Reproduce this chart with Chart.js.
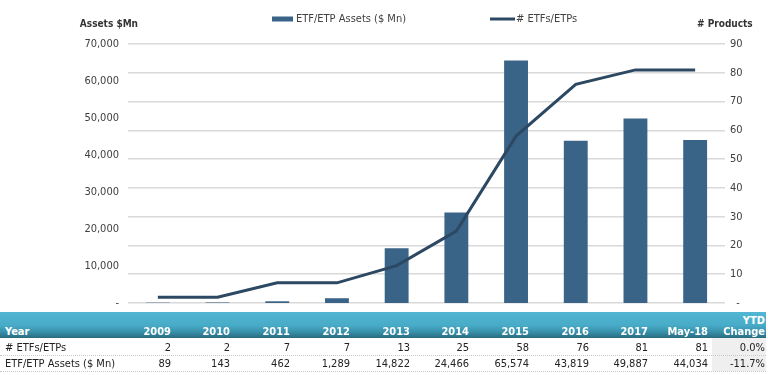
<!DOCTYPE html>
<html><head><meta charset="utf-8">
<script src="https://cdn.jsdelivr.net/npm/chart.js@4/dist/chart.umd.min.js"></script>
<style>
html,body{margin:0;padding:0;background:#fff;}
#wrap{position:relative;width:768px;height:375px;overflow:hidden;font-family:'DejaVu Sans Condensed','DejaVu Sans',sans-serif;font-size:11px;color:#222;}
#c{position:absolute;left:0;top:0;}
#tbl{position:absolute;left:0;top:0;width:768px;height:375px;}
.hdr{position:absolute;left:0;top:312px;width:766px;height:26px;background:linear-gradient(to bottom,#52b7d3 0%,#48acc8 50%,#3a93ad 75%,#2a6b80 100%);}
.ytdbg{position:absolute;left:712px;top:338px;width:54px;height:33px;background:#efefef;}
.sep{position:absolute;left:0;width:766px;height:0;border-top:1px dotted #c8c8c8;}
.cell{position:absolute;white-space:nowrap;line-height:13px;transform:translateX(-100%);}
.h{color:#fff;font-weight:bold;}
</style></head>
<body>
<div id="wrap">
<canvas id="c" width="768" height="375"></canvas>
<div id="tbl"></div>
</div>
<script>
const categories = ['2009','2010','2011','2012','2013','2014','2015','2016','2017','May-18'];
const etfCount = [2,2,7,7,13,25,58,76,81,81];
const assets = [89,143,462,1289,14822,24466,65574,43819,49887,44034];
const ytdChange = ['0.0%','-11.7%'];
const seriesNames = ['ETF/ETP Assets ($ Mn)','# ETFs/ETPs'];
const leftTitle = 'Assets $Mn';
const rightTitle = '# Products';
const rowLabels = ['Year','# ETFs/ETPs','ETF/ETP Assets ($ Mn)'];
const ytdHeader = ['YTD','Change'];

const FONT = "'DejaVu Sans Condensed','DejaVu Sans',sans-serif";
Chart.defaults.font.family = FONT;
Chart.defaults.font.size = 11;
Chart.defaults.color = '#404040';

const barColor = '#3a6487';
const lineColor = '#2c4862';

const deco = {
  id: 'deco',
  afterDraw(chart) {
    const ctx = chart.ctx;
    ctx.save();
    ctx.textBaseline = 'middle';
    ctx.fillStyle = '#333';
    ctx.font = "bold 10px " + FONT;
    ctx.textAlign = 'right';
    ctx.fillText(leftTitle, 138, 24);
    ctx.textAlign = 'left';
    ctx.fillText(rightTitle, 697, 24);
    // legend
    const ds = chart.data.datasets;
    ctx.font = "11px " + FONT;
    ctx.fillStyle = ds[0].backgroundColor;
    ctx.fillRect(272, 16.5, 21, 5);
    ctx.fillStyle = '#404040';
    ctx.fillText(ds[0].label, 296, 19);
    ctx.strokeStyle = ds[1].borderColor;
    ctx.lineWidth = 3;
    ctx.beginPath(); ctx.moveTo(490, 19); ctx.lineTo(515, 19); ctx.stroke();
    ctx.fillText(ds[1].label, 516, 19);
    ctx.restore();
  }
};

const chart = new Chart(document.getElementById('c'), {
  type: 'bar',
  data: {
    labels: categories,
    datasets: [
      { type: 'bar', label: seriesNames[0], data: assets, backgroundColor: barColor,
        yAxisID: 'yL', order: 1, barPercentage: 0.4, categoryPercentage: 1 },
      { type: 'line', label: seriesNames[1], data: etfCount, borderColor: lineColor,
        backgroundColor: lineColor, borderWidth: 3, pointRadius: 0, tension: 0,
        yAxisID: 'yR', order: 0 }
    ]
  },
  options: {
    responsive: false,
    animation: false,
    layout: { padding: { top: 44, bottom: 72, left: 0, right: 0 } },
    plugins: { legend: { display: false }, tooltip: { enabled: false } },
    scales: {
      x: { display: false, offset: true },
      yL: {
        position: 'left', min: 0, max: 70000,
        ticks: { stepSize: 10000, padding: 9,
          callback: v => v === 0 ? '-' : v.toLocaleString('en-US') },
        grid: { display: false, drawTicks: false },
        border: { display: false },
        afterFit: s => { s.width = 128; }
      },
      yR: {
        position: 'right', min: 0, max: 90,
        ticks: { stepSize: 10, padding: 5,
          callback: v => v === 0 ? '  -' : String(v) },
        grid: { color: '#d9d9d9', lineWidth: 1.5, drawTicks: false },
        border: { display: false },
        afterFit: s => { s.width = 43; }
      }
    }
  },
  plugins: [deco]
});

// Build the data table below, aligned to the bars
(function () {
  const tbl = document.getElementById('tbl');
  const add = (cls, text, right, top) => {
    const d = document.createElement('div');
    d.className = cls;
    d.textContent = text;
    d.style.left = right + 'px';
    d.style.top = top + 'px';
    tbl.appendChild(d);
    return d;
  };
  const el = (cls, top) => { const d = document.createElement('div'); d.className = cls; if (top != null) d.style.top = top + 'px'; tbl.appendChild(d); };
  el('hdr');
  el('ytdbg');
  el('sep', 355);
  el('sep', 371);
  const meta = chart.getDatasetMeta(0);
  const rows = [325, 341, 357];
  const lab = (text, top, bold) => {
    const d = document.createElement('div');
    d.className = 'cell' + (bold ? ' h' : '');
    d.style.transform = 'none';
    d.style.left = '5px'; d.style.top = top + 'px';
    d.textContent = text; tbl.appendChild(d);
  };
  lab(rowLabels[0], rows[0], true);
  lab(rowLabels[1], rows[1], false);
  lab(rowLabels[2], rows[2], false);
  categories.forEach((c, i) => {
    const bar = meta.data[i];
    const right = Math.round(bar.x + bar.width / 2) + 1;
    add('cell h', c, right, rows[0]);
    add('cell', etfCount[i].toLocaleString('en-US'), right, rows[1]);
    add('cell', assets[i].toLocaleString('en-US'), right, rows[2]);
  });
  add('cell h', ytdHeader[0], 765, 314);
  add('cell h', ytdHeader[1], 765, rows[0]);
  add('cell', ytdChange[0], 765, rows[1]);
  add('cell', ytdChange[1], 765, rows[2]);
})();
</script>
</body></html>
